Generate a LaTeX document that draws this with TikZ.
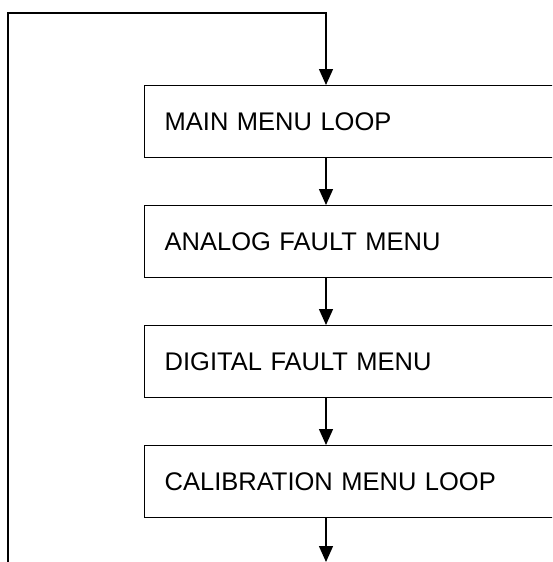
\documentclass[tikz,border=0pt]{standalone}
\usepackage{fontspec}
\setmainfont{Liberation Sans}
\usetikzlibrary{arrows.meta}
\begin{document}
\begin{tikzpicture}[x=1pt,y=-1pt,
  menubox/.style={draw, line width=1.4pt, rectangle, anchor=north west,
    minimum width=430pt, minimum height=72pt, text width=390pt, inner xsep=20pt,
    align=left, font=\fontsize{25.5}{30}\selectfont},
  conn/.style={line width=1.4pt, -{Triangle[length=16pt,width=14pt]}}]
\useasboundingbox (0,0) rectangle (552,562);
\clip (0,0) rectangle (552,562);
\node[menubox] (b1) at (144,85) {MAIN MENU LOOP};
\node[menubox] (b2) at (144,205) {ANALOG FAULT MENU};
\node[menubox] (b3) at (144,325) {DIGITAL FAULT MENU};
\node[menubox] (b4) at (144,445) {CALIBRATION MENU LOOP};
\coordinate (loopstart) at (8,570);
\coordinate (topleft) at (8,13);
\coordinate (topright) at (326,13);
\coordinate (endpt) at (326,562);
\draw[conn] (loopstart) -- (topleft) -- (topright) -- (topright |- b1.north);
\draw[conn] (topright |- b1.south) -- (topright |- b2.north);
\draw[conn] (topright |- b2.south) -- (topright |- b3.north);
\draw[conn] (topright |- b3.south) -- (topright |- b4.north);
\draw[conn] (topright |- b4.south) -- (endpt);
\end{tikzpicture}
\end{document}
